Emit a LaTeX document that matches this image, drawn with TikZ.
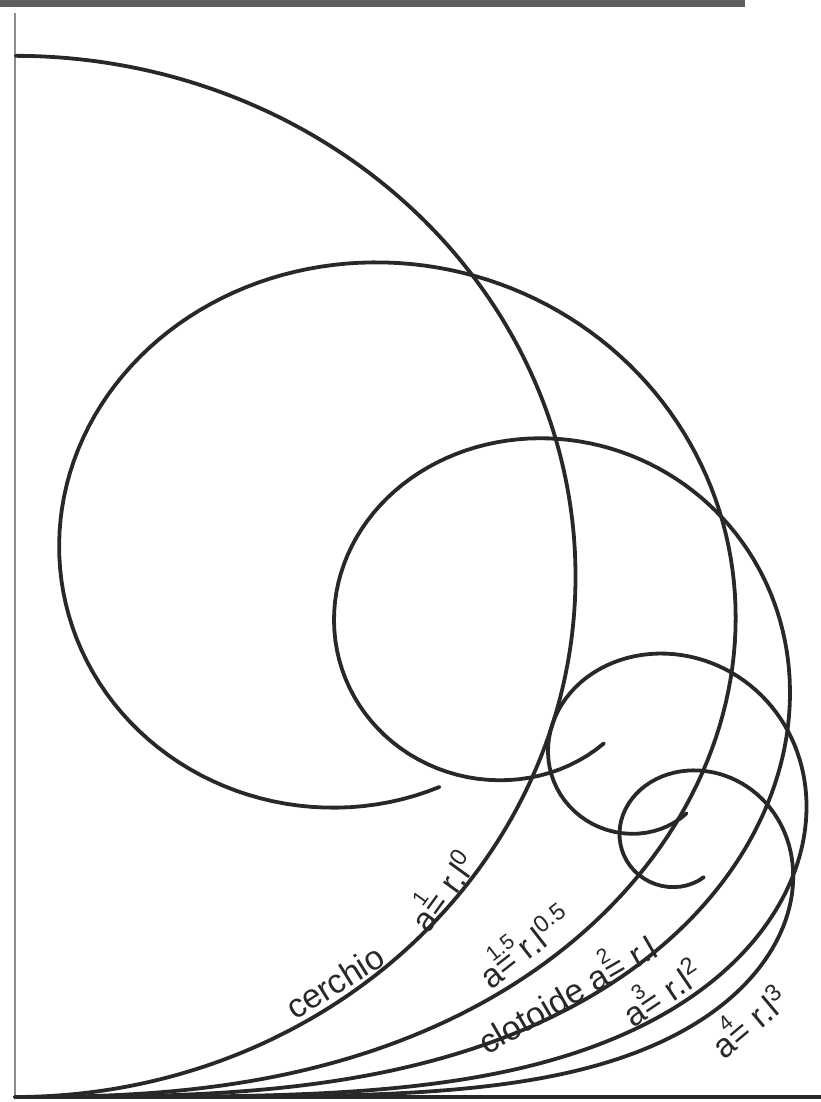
\documentclass[tikz,border=0pt]{standalone}
\usepackage{fontspec}
\setmainfont{Liberation Sans}
\usepackage{tikz}
\usetikzlibrary{calc}
\definecolor{InkGray}{RGB}{40,40,40}
\definecolor{AxisGray}{RGB}{140,140,140}
\definecolor{BarGray}{RGB}{95,95,95}

% exponent set over the equals sign
\newcommand{\sopra}[1]{\rlap{\raisebox{0.62em}{\fontsize{15}{15}\selectfont#1}}}

% curve with curvature s^n (a=1): #1 = n, #2 = arc length, #3 = name
\newcommand{\spiralcurve}[3]{%
  \pgfmathsetmacro{\nexp}{#1}
  \pgfmathsetmacro{\hstep}{#2/200}
  \xdef\sx{0}\xdef\sy{0}
  \coordinate (#3-0) at (0,0);
  \foreach \i in {1,...,200}{
    \pgfmathsetmacro{\sm}{(\i-0.5)*\hstep}
    \pgfmathsetmacro{\tang}{deg(pow(\sm,\nexp+1)/(\nexp+1))}
    \pgfmathsetmacro{\sx}{\sx+\hstep*cos(\tang)}
    \pgfmathsetmacro{\sy}{\sy+\hstep*sin(\tang)}
    \xdef\sx{\sx}\xdef\sy{\sy}
    \coordinate (#3-\i) at (\sx,\sy);
  }
  \draw[curve] (#3-0) \foreach \i in {1,...,200}{ -- (#3-\i)};
}

\begin{document}
\begin{tikzpicture}[x=14.025cm,y=13.025cm,
  curve/.style={line width=2.7pt,InkGray,line cap=round,line join=round},
  lbl/.style={font=\fontsize{24}{26}\selectfont,InkGray,inner sep=0pt}]
  \useasboundingbox (-0.0267,-0.0096) rectangle (1.4367,2.1056);
  \fill[BarGray] (-0.0267,2.0921) rectangle (1.301,2.1056);
  \draw[AxisGray,line width=1.2pt] (0,2.08) -- (0,0);
  \draw[InkGray,line width=3pt] (0,0) -- (1.44,0);

  \spiralcurve{0}{3.1416}{cerchio}
  \spiralcurve{0.5}{4.66}{mezzo}
  \spiralcurve{1}{3.75}{clotoide}
  \spiralcurve{2}{2.77}{quadra}
  \spiralcurve{3}{2.30}{cubica}

  \node[lbl,rotate=32] (lcer) at (0.570,0.221) {cerchio};
  \node[lbl,rotate=54] (lzero) at (0.758,0.400) {a\sopra{1}= r.l\textsuperscript{0}};
  \node[lbl,rotate=38] (lmezzo) at (0.905,0.295) {a\sopra{1.5}= r.l\textsuperscript{0.5}};
  \node[lbl,rotate=30] (lclo) at (0.980,0.205) {clotoide a\sopra{2}= r.l};
  \node[lbl,rotate=34] (lquad) at (1.150,0.206) {a\sopra{3}= r.l\textsuperscript{2}};
  \node[lbl,rotate=40] (lcub) at (1.305,0.150) {a\sopra{4}= r.l\textsuperscript{3}};
\end{tikzpicture}
\end{document}
